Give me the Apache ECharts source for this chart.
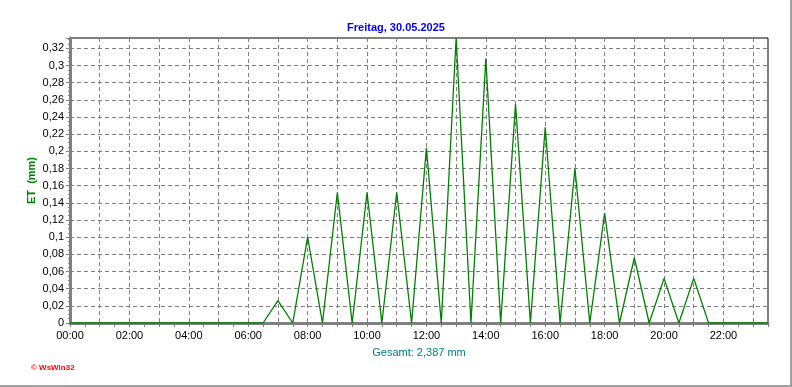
<!DOCTYPE html>
<html>
<head>
<meta charset="utf-8">
<script src="https://cdn.jsdelivr.net/npm/echarts@6/dist/echarts.min.js"></script>
<style>
html,body{margin:0;padding:0;background:#fff;}
#c{width:792px;height:387px;position:relative;}
#frame{position:absolute;left:0;top:0;width:790px;height:385px;border-right:2px solid #a0a0a0;border-bottom:2px solid #a0a0a0;pointer-events:none;}
</style>
</head>
<body>
<div id="c"></div>
<div id="frame"></div>
<script>
// half-hourly times (hours) and ET values (mm)
const times = [];
for (let i = 0; i < 48; i++) times.push(i / 2);
const etValues = [
  0,0, 0,0, 0,0, 0,0, 0,0, 0,0, 0,0,      // 00:00 - 06:30
  0.026, 0, 0.100, 0, 0.152, 0, 0.152, 0, 0.152, 0, // 07:00 - 11:30
  0.204, 0, 0.332, 0, 0.308, 0, 0.255, 0, 0.228, 0, // 12:00 - 16:30
  0.180, 0, 0.128, 0, 0.076, 0, 0.052, 0, 0.052, 0, // 17:00 - 21:30
  0, 0, 0, 0                               // 22:00 - 23:30
];
const titleText = 'Freitag, 30.05.2025';
const yName = 'ET  (mm)';
const xName = 'Gesamt: 2,387 mm';
const copyright = '\u00A9 WsWin32';

const data = times.map((t, i) => [t, etValues[i]]);
const font = 'Liberation Sans, Arial, sans-serif';

const chart = echarts.init(document.getElementById('c'));
chart.setOption({
  backgroundColor: '#fff',
  animation: false,
  title: [
    { text: titleText, left: 'center', top: 17,
      textStyle: { color: '#0000ff', fontSize: 11, fontWeight: 'bold', fontFamily: font } },
    { text: copyright, left: 26, top: 359,
      textStyle: { color: '#ff0000', fontSize: 8, fontWeight: 'bold', fontFamily: font } }
  ],
  grid: { left: 70, right: 24, top: 38, bottom: 64, show: true, borderColor: '#000', borderWidth: 1 },
  xAxis: {
    type: 'value', min: 0, max: 23.5, interval: 1,
    name: xName, nameLocation: 'middle', nameGap: 24, nameMoveOverlap: false,
    nameTextStyle: { color: '#008080', fontSize: 11, fontFamily: font },
    axisLine: { show: true, lineStyle: { color: '#808080', width: 3 } },
    axisTick: { show: true, length: 4, lineStyle: { color: '#808080' } },
    minorTick: { show: true, splitNumber: 2, length: 4, lineStyle: { color: '#808080' } },
    splitLine: { show: true, lineStyle: { color: '#808080', type: [4, 3], width: 1 } },
    axisLabel: {
      color: '#000', fontSize: 11, fontFamily: font, margin: 7,
      formatter: v => (Math.abs(v - Math.round(v)) < 1e-6 && Math.round(v) % 2 === 0)
        ? String(Math.round(v)).padStart(2, '0') + ':00' : ''
    }
  },
  yAxis: {
    type: 'value', min: 0, max: 0.332, interval: 0.02,
    name: yName, nameLocation: 'middle', nameGap: 33, nameRotate: 90, nameMoveOverlap: false,
    nameTextStyle: { color: '#008000', fontSize: 11, fontWeight: 'bold', fontFamily: font },
    axisLine: { show: true, lineStyle: { color: '#808080', width: 3 } },
    axisTick: { show: true, length: 4, lineStyle: { color: '#808080' } },
    minorTick: { show: true, splitNumber: 4, length: 2, lineStyle: { color: '#808080' } },
    splitLine: { show: true, lineStyle: { color: '#808080', type: [4, 3], width: 1 } },
    axisLabel: {
      color: '#000', fontSize: 11, fontFamily: font, margin: 6,
      formatter: v => v > 0.321 + 1e-9 ? '' : String(+v.toFixed(2)).replace('.', ',')
    }
  },
  series: [{
    type: 'line', data: data, showSymbol: false, symbol: 'none',
    lineStyle: { color: '#008000', width: 1.3 },
    z: 5
  }]
});
</script>
</body>
</html>
